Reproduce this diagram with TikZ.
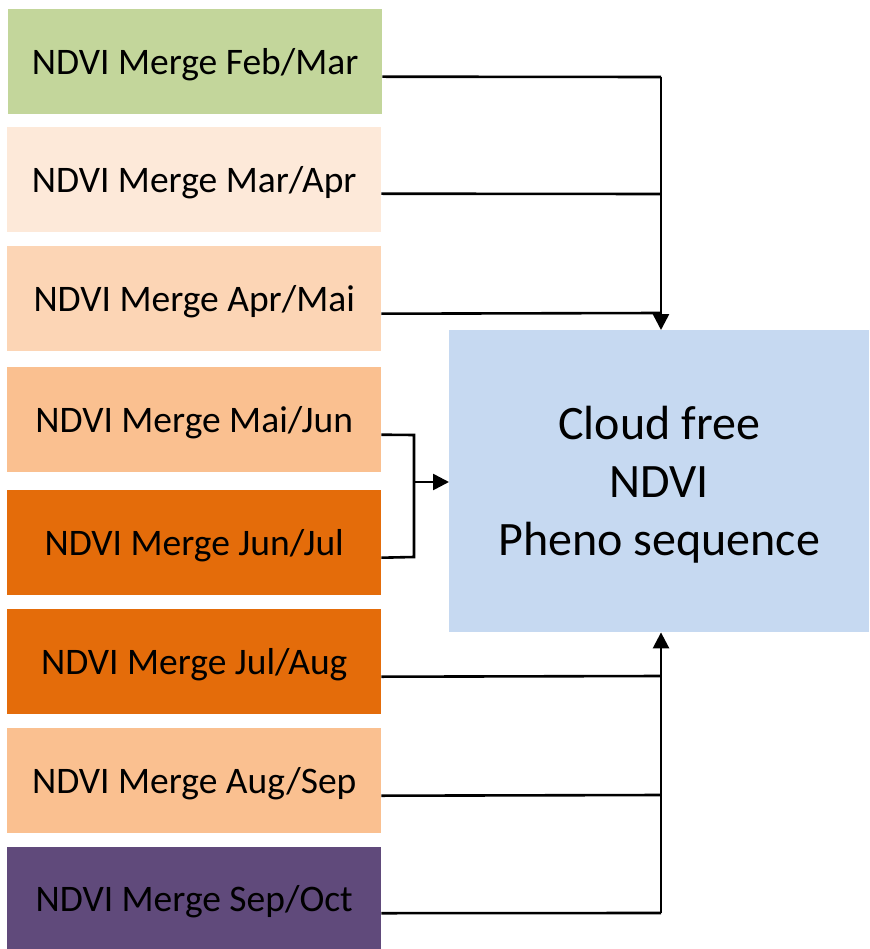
\documentclass[tikz,border=0pt]{standalone}
\usepackage{fontspec}
\setmainfont{Carlito}
\usetikzlibrary{arrows.meta,calc}
\definecolor{cgreen}{HTML}{C3D69B}
\definecolor{cpeach1}{HTML}{FDE9D9}
\definecolor{cpeach2}{HTML}{FCD5B5}
\definecolor{cpeach3}{HTML}{FAC090}
\definecolor{corange}{HTML}{E46C0A}
\definecolor{cpurple}{HTML}{604A7B}
\definecolor{cblue}{HTML}{C6D9F1}
\newcommand{\mylbl}[1]{\raisebox{-3pt}[\height][\depth]{#1}}
\begin{document}
\begin{tikzpicture}[x=1pt,y=-1pt,
  mbox/.style={minimum width=374pt,minimum height=105pt,inner sep=0pt,anchor=north west,font=\fontsize{37.5}{45}\selectfont},
  conn/.style={line width=2.6pt},
  arr/.style={line width=2.6pt,-{Triangle[length=16pt,width=16pt]}}]
\useasboundingbox (0,0) rectangle (869,949);
\node[mbox,fill=cgreen] (b1) at (8,9) {\mylbl{NDVI Merge Feb/Mar}};
\node[mbox,fill=cpeach1] (b2) at (7,127) {\mylbl{NDVI Merge Mar/Apr}};
\node[mbox,fill=cpeach2] (b3) at (7,246) {\mylbl{NDVI Merge Apr/Mai}};
\node[mbox,fill=cpeach3] (b4) at (7,367) {\mylbl{NDVI Merge Mai/Jun}};
\node[mbox,fill=corange] (b5) at (7,490) {\mylbl{NDVI Merge Jun/Jul}};
\node[mbox,fill=corange] (b6) at (7,609) {\mylbl{NDVI Merge Jul/Aug}};
\node[mbox,fill=cpeach3] (b7) at (7,728) {\mylbl{NDVI Merge Aug/Sep}};
\node[mbox,fill=cpurple,minimum height=102pt] (b8) at (7,847) {\mylbl{NDVI Merge Sep/Oct}};
\node[fill=cblue,minimum width=420pt,minimum height=302pt,inner sep=0pt,anchor=north west,font=\fontsize{48}{58}\selectfont] (m) at (449,330) {\raisebox{-5pt}[\height][\depth]{\begin{tabular}{@{}c@{}}Cloud free\\NDVI\\Pheno sequence\end{tabular}}};
% upper group
\coordinate (t1) at (661,77);
\coordinate (t2) at (661,194);
\coordinate (t3) at (661,313);
\draw[conn] ($(b1.east)+(0,15)$) -- (t1);
\draw[conn] ($(b2.east)+(0,14)$) -- (t2);
\draw[conn] ($(b3.east)+(0,15)$) -- (t3);
\draw[arr] (t1) -- (m.north -| t1);
% middle group
\coordinate (j4) at (414,435);
\coordinate (j5) at (414,557);
\coordinate (jm) at (414,482);
\draw[conn] ($(b4.east)+(0,15)$) -- (j4) -- (j5) -- ($(b5.east)+(0,15)$);
\draw[arr] (jm) -- (m.west |- jm);
% lower group
\coordinate (u6) at (661,676);
\coordinate (u7) at (661,795);
\coordinate (u8) at (661,913);
\draw[conn] ($(b6.east)+(0,15)$) -- (u6);
\draw[conn] ($(b7.east)+(0,15)$) -- (u7);
\draw[conn] ($(b8.east)+(0,15)$) -- (u8);
\draw[arr] (u8) -- (m.south -| u8);
\end{tikzpicture}
\end{document}
